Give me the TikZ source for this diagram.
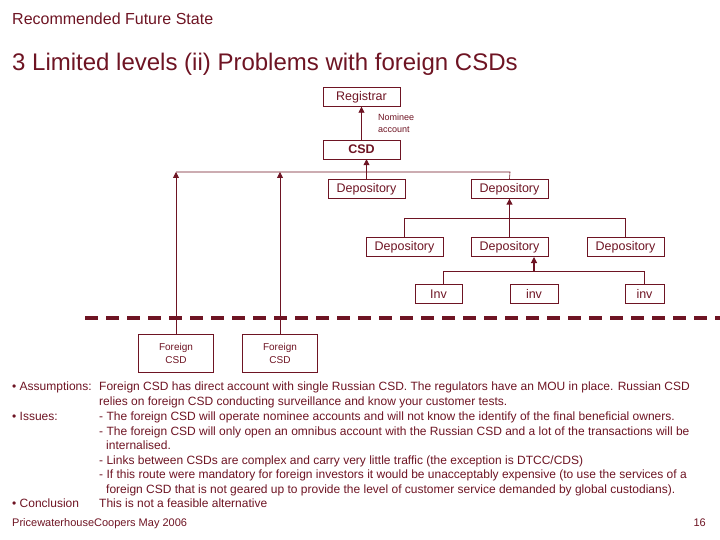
\documentclass[tikz,border=0pt]{standalone}
\usepackage{fontspec}
\setmainfont{Liberation Sans}
\usetikzlibrary{arrows.meta}
\definecolor{pwc}{HTML}{6E1423}
\begin{document}
\begin{tikzpicture}
  [x=1pt,y=-1pt,
  every node/.style={text=pwc},
  block/.style={rectangle, draw=pwc, minimum height=19pt, inner sep=0pt, font=\fontsize{12.5}{13}\selectfont},
  fblock/.style={rectangle, draw=pwc, minimum width=75pt, minimum height=38pt, inner sep=0pt, align=center, font=\fontsize{10}{13}\selectfont},
  line/.style={draw=pwc, semithick},
  arr/.style={draw=pwc, thick, -{Triangle[length=6pt,width=6pt]}},
  txt/.style={anchor=base west, inner sep=0pt, font=\fontsize{12}{13}\selectfont}]
  \useasboundingbox (0,0) rectangle (720,540);

  \node[anchor=base west, inner sep=0pt, font=\fontsize{16}{18}\selectfont] (head) at (12,25) {Recommended Future State};
  \node[anchor=base west, inner sep=0pt, font=\fontsize{24}{26}\selectfont] (title) at (12,71) {3 Limited levels (ii) Problems with foreign CSDs};

  % boxes
  \node [block, minimum width=77pt] (reg) at (361.5,97) {Registrar};
  \node [block, minimum width=77pt, font=\bfseries\fontsize{12.5}{13}\selectfont] (csd) at (361.5,149.5) {CSD};
  \node [anchor=west, align=left, inner sep=0pt, font=\fontsize{9}{12}\selectfont] (nom) at (378,123) {Nominee\\account};
  \node [block, minimum width=77pt] (dep1) at (366.5,189) {Depository};
  \node [block, minimum width=77pt] (dep2) at (509.5,189) {Depository};
  \node [block, minimum width=77pt] (dep3) at (404.5,247) {Depository};
  \node [block, minimum width=77pt] (dep4) at (509.5,247) {Depository};
  \node [block, minimum width=77pt] (dep5) at (625.5,247) {Depository};
  \node [block, minimum width=47pt] (inv1) at (438.5,294) {Inv};
  \node [block, minimum width=48pt] (inv2) at (534,294) {inv};
  \node [block, minimum width=39pt] (inv3) at (644.5,294) {inv};
  \node [fblock] (for1) at (176,353) {Foreign\\CSD};
  \node [fblock] (for2) at (280,353) {Foreign\\CSD};

  % buses
  \coordinate (b1l) at (176,172);
  \coordinate (b1r) at (510,172);
  \coordinate (b1m) at (366.5,172);
  \coordinate (b2l) at (404.5,218);
  \coordinate (b2r) at (625.5,218);
  \coordinate (b3l) at (443,271);
  \coordinate (b3r) at (644.5,271);

  \begin{scope}[every path/.style=line]
    \path (b1l) -- (b1r) -- (dep2.north);
    \path (b2l) -- (b2r) -- (dep5.north);
    \path (b2l) -- (dep3.north);
    \path (b3l) -- (b3r) -- (inv3.north);
    \path (b3l) -- (b3l |- inv1.north);
  \end{scope}
  \begin{scope}[every path/.style=arr]
    \path (csd) -- (reg);
    \path (dep1.north) -- (b1m |- csd.south);
    \path (for1.north) -- (b1l);
    \path (for2.north) -- (b1r -| for2);
    \path[very thick] (dep4.north) -- (dep2.south);
    \path[very thick] (534,271) -- (534,257);
  \end{scope}

  \draw[pwc, line width=3.5pt, dash pattern=on 13pt off 8pt] (85,318) -- (720,318);

  % text
  \node[txt] (l1) at (12,390) {\textbullet\ Assumptions:};
  \node[txt] at (99,390) {Foreign CSD has direct account with single Russian CSD. The regulators have an MOU in place. Russian CSD};
  \node[txt] at (99,405) {relies on foreign CSD conducting surveillance and know your customer tests.};
  \node[txt] (l2) at (12,420) {\textbullet\ Issues:};
  \node[txt] at (99,420) {- The foreign CSD will operate nominee accounts and will not know the identify of the final beneficial owners.};
  \node[txt] at (99,435) {- The foreign CSD will only open an omnibus account with the Russian CSD and a lot of the transactions will be};
  \node[txt] at (106,449) {internalised.};
  \node[txt] at (99,464) {- Links between CSDs are complex and carry very little traffic (the exception is DTCC/CDS)};
  \node[txt] at (99,478) {- If this route were mandatory for foreign investors it would be unacceptably expensive (to use the services of a};
  \node[txt] at (106,493) {foreign CSD that is not geared up to provide the level of customer service demanded by global custodians).};
  \node[txt] (l3) at (12,507) {\textbullet\ Conclusion};
  \node[txt] at (99,507) {This is not a feasible alternative};
  \node[txt, font=\fontsize{11}{12}\selectfont] (foot) at (12,526) {PricewaterhouseCoopers May 2006};
  \node[txt, anchor=base east, font=\fontsize{11}{12}\selectfont] (page) at (706,526) {16};
\end{tikzpicture}
\end{document}
